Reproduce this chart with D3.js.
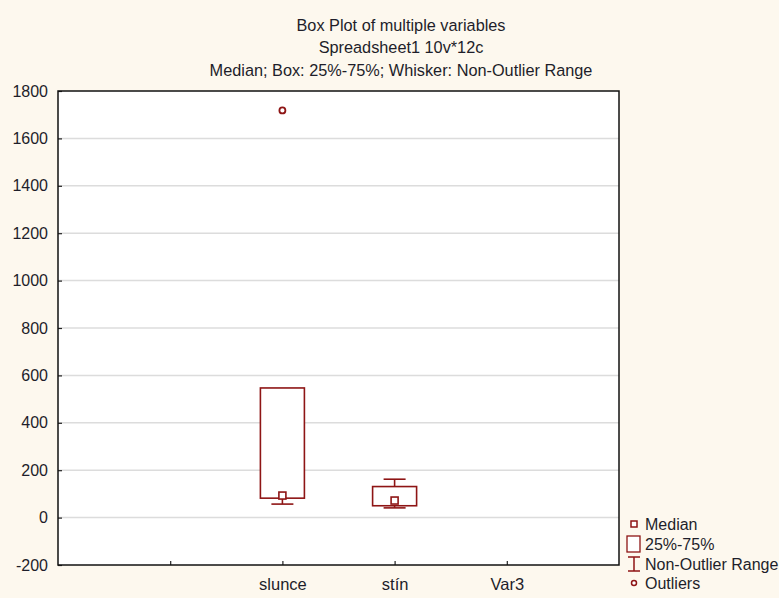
<!DOCTYPE html>
<html>
<head>
<meta charset="utf-8">
<script src="https://cdn.jsdelivr.net/npm/d3@7"></script>
<style>
  html, body { margin: 0; padding: 0; background: #fdf8ee; }
  svg { display: block; font-family: "Liberation Sans", Arial, sans-serif; }
</style>
</head>
<body>
<svg id="chart" width="779" height="598"></svg>
<script>
// Variables on the x axis (first slot is an unlabeled spacer)
const categories = ["", "slunce", "stín", "Var3"];
// Summary statistics per variable (null = no data)
const q1       = [null, 82, 50, null];
const q3       = [null, 547, 131, null];
const medians  = [null, 93, 72, null];
const whiskLo  = [null, 57, 41, null];
const whiskHi  = [null, 547, 162, null];
const outliers = [[], [1718], [], []];
const yTicks = [-200, 0, 200, 400, 600, 800, 1000, 1200, 1400, 1600, 1800];
const titleLines = [
  "Box Plot of multiple variables",
  "Spreadsheet1 10v*12c",
  "Median; Box: 25%-75%; Whisker: Non-Outlier Range"
];
const legendItems = ["Median", "25%-75%", "Non-Outlier Range", "Outliers"];

const svg = d3.select("#chart");
const plot = { left: 58, top: 91, right: 619, bottom: 565 };
const red = "#8e1515";
const textCol = "#1e1e2a";

const x = d3.scalePoint().domain(categories).range([plot.left, plot.right]).padding(1);
const y = d3.scaleLinear().domain([-200, 1800]).range([plot.bottom, plot.top]);

// Title
svg.append("g").selectAll("text").data(titleLines).join("text")
  .attr("x", 401).attr("y", (d, i) => 30.5 + i * 22.5)
  .attr("text-anchor", "middle").attr("font-size", 16.3).attr("fill", textCol)
  .text(d => d);

// Plot background
svg.append("rect").attr("x", plot.left).attr("y", plot.top)
  .attr("width", plot.right - plot.left).attr("height", plot.bottom - plot.top)
  .attr("fill", "#fff");

// Horizontal grid
svg.append("g").selectAll("line").data(yTicks.filter(t => t > -200 && t < 1800)).join("line")
  .attr("x1", plot.left).attr("x2", plot.right)
  .attr("y1", d => y(d)).attr("y2", d => y(d))
  .attr("stroke", "#dcdcdc").attr("stroke-width", 1.5);

// Y axis
const yAxis = svg.append("g").attr("transform", `translate(${plot.left},0)`)
  .call(d3.axisLeft(y).tickValues(yTicks).tickSize(-4).tickPadding(10).tickFormat(d => String(d)));
yAxis.select(".domain").remove();
yAxis.selectAll("line").attr("stroke", "#222").attr("stroke-width", 1.2);
yAxis.selectAll("text").attr("font-size", 16).attr("fill", textCol)
  .attr("font-family", "Liberation Sans, Arial, sans-serif");

// X axis
const xAxis = svg.append("g").attr("transform", `translate(0,${plot.bottom})`)
  .call(d3.axisBottom(x).tickSize(-4).tickPadding(13));
xAxis.select(".domain").remove();
xAxis.selectAll("line").attr("stroke", "#222").attr("stroke-width", 1.2);
xAxis.selectAll("text").attr("font-size", 16.5).attr("fill", textCol)
  .attr("font-family", "Liberation Sans, Arial, sans-serif");

// Plot frame
svg.append("rect").attr("x", plot.left).attr("y", plot.top)
  .attr("width", plot.right - plot.left).attr("height", plot.bottom - plot.top)
  .attr("fill", "none").attr("stroke", "#111").attr("stroke-width", 1.5);

// Boxes
const boxW = 44, capW = 22;
const idx = categories.map((c, i) => i).filter(i => q1[i] !== null);
const g = svg.append("g").attr("stroke", red).attr("fill", "none").attr("stroke-width", 1.6);
idx.forEach(i => {
  const cx = x(categories[i]);
  // whiskers
  if (whiskHi[i] > q3[i]) {
    g.append("line").attr("x1", cx).attr("x2", cx).attr("y1", y(q3[i])).attr("y2", y(whiskHi[i]));
    g.append("line").attr("x1", cx - capW / 2).attr("x2", cx + capW / 2).attr("y1", y(whiskHi[i])).attr("y2", y(whiskHi[i]));
  }
  if (whiskLo[i] < q1[i]) {
    g.append("line").attr("x1", cx).attr("x2", cx).attr("y1", y(q1[i])).attr("y2", y(whiskLo[i]));
    g.append("line").attr("x1", cx - capW / 2).attr("x2", cx + capW / 2).attr("y1", y(whiskLo[i])).attr("y2", y(whiskLo[i]));
  }
  // box
  g.append("rect").attr("x", cx - boxW / 2).attr("y", y(q3[i]))
    .attr("width", boxW).attr("height", y(q1[i]) - y(q3[i])).attr("fill", "#fff");
  // median marker
  g.append("rect").attr("x", cx - 3.5).attr("y", y(medians[i]) - 3.5)
    .attr("width", 7).attr("height", 7).attr("fill", "#fff");
  // outliers
  outliers[i].forEach(v => {
    g.append("circle").attr("cx", cx).attr("cy", y(v)).attr("r", 3).attr("fill", "#fff").attr("stroke-width", 1.8);
  });
});

// Legend
const lg = svg.append("g");
const lx = 634, ly = [524, 544, 564, 583];
lg.append("rect").attr("x", lx - 3).attr("y", ly[0] - 3).attr("width", 6).attr("height", 6)
  .attr("fill", "#fff").attr("stroke", red).attr("stroke-width", 1.5);
lg.append("rect").attr("x", lx - 7).attr("y", ly[1] - 8).attr("width", 13).attr("height", 16)
  .attr("fill", "#fff").attr("stroke", red).attr("stroke-width", 1.3);
lg.append("line").attr("x1", lx).attr("x2", lx).attr("y1", ly[2] - 7).attr("y2", ly[2] + 7).attr("stroke", red).attr("stroke-width", 1.5);
lg.append("line").attr("x1", lx - 6).attr("x2", lx + 6).attr("y1", ly[2] - 7).attr("y2", ly[2] - 7).attr("stroke", red).attr("stroke-width", 1.5);
lg.append("line").attr("x1", lx - 6).attr("x2", lx + 6).attr("y1", ly[2] + 7).attr("y2", ly[2] + 7).attr("stroke", red).attr("stroke-width", 1.5);
lg.append("circle").attr("cx", lx).attr("cy", ly[3]).attr("r", 2.5).attr("fill", "#fff").attr("stroke", red).attr("stroke-width", 1.5);
lg.selectAll("text").data(legendItems).join("text")
  .attr("x", 645).attr("y", (d, i) => ly[i] + 6)
  .attr("font-size", 16).attr("fill", textCol).text(d => d);
</script>
</body>
</html>
